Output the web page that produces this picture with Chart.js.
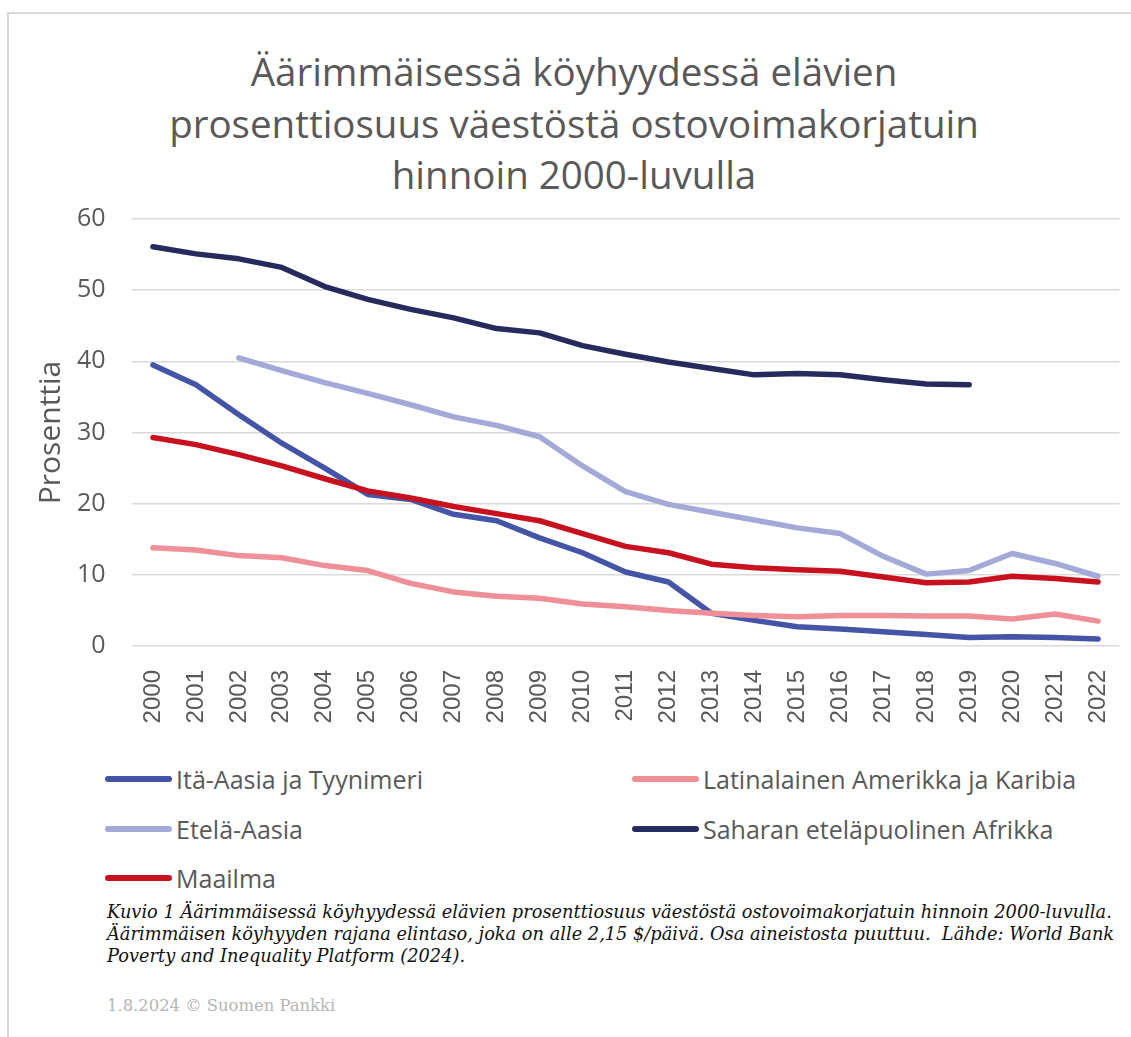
<!DOCTYPE html>
<html lang="fi">
<head>
<meta charset="utf-8">
<title>Äärimmäinen köyhyys</title>
<script src="https://cdn.jsdelivr.net/npm/chart.js@4.4.1/dist/chart.umd.min.js"></script>
<style>
  html, body { margin: 0; padding: 0; background: #fff; overflow: hidden; }
  body { width: 1131px; height: 1037px; position: relative; font-family: "Open Sans", sans-serif; }
  .frame { position: absolute; left: 7px; top: 12px; right: 0; bottom: 0;
           border-top: 2px solid #d9d9d9; border-left: 2px solid #d9d9d9; }
  h1 { position: absolute; left: 0; width: 1148px; top: 46px; margin: 0;
       text-align: center; font-weight: 400; font-size: 38.5px; line-height: 51.5px; color: #595959; }
  #wrap { position: absolute; left: 0; top: 200px; width: 1131px; height: 545px; }
  .leg { position: absolute; height: 30px; display: flex; align-items: center;
         font-size: 25px; color: #595959; white-space: nowrap; }
  .leg span.sw { display: inline-block; width: 67px; height: 6px; border-radius: 3px; margin-right: 4px; }
  .caption { position: absolute; left: 107px; top: 901px; font-family: "DejaVu Serif", serif;
             font-style: italic; font-size: 17.8px; line-height: 22px; color: #111; white-space: nowrap; }
  .foot { position: absolute; left: 107px; top: 996px; font-family: "DejaVu Serif", serif;
          font-size: 16.4px; color: #b5b5b5; }
</style>
</head>
<body>
<div class="frame"></div>
<h1>Äärimmäisessä köyhyydessä elävien<br>prosenttiosuus väestöstä ostovoimakorjatuin<br>hinnoin 2000-luvulla</h1>
<div id="wrap"><canvas id="chart" width="1131" height="545"></canvas></div>
<div id="legend"></div>
<div class="caption">Kuvio 1 Äärimmäisessä köyhyydessä elävien prosenttiosuus väestöstä ostovoimakorjatuin hinnoin 2000-luvulla.<br>Äärimmäisen köyhyyden rajana elintaso, joka on alle 2,15 $/päivä. Osa aineistosta puuttuu.&nbsp; Lähde: World Bank<br>Poverty and Inequality Platform (2024).</div>
<div class="foot">1.8.2024 © Suomen Pankki</div>
<script>
// Vuodet x-akselille
const years = ["2000", "2001", "2002", "2003", "2004", "2005", "2006", "2007", "2008", "2009", "2010",
               "2011", "2012", "2013", "2014", "2015", "2016", "2017", "2018", "2019", "2020", "2021", "2022"];

// Osuudet (%), luettu kuvasta; null = puuttuva tieto
const itaAasia = [39.5, 36.7, 32.5, 28.5, 25.0, 21.3, 20.6, 18.5, 17.6, 15.2, 13.1,
                  10.4, 9.0, 4.6, 3.6, 2.7, 2.4, 2.0, 1.6, 1.2, 1.3, 1.2, 1.0];
const latinalainen = [13.8, 13.5, 12.7, 12.4, 11.3, 10.6, 8.8, 7.6, 7.0, 6.7, 5.9,
                      5.5, 5.0, 4.6, 4.3, 4.1, 4.3, 4.3, 4.2, 4.2, 3.8, 4.5, 3.5];
const etelaAasia = [null, null, 40.5, 38.7, 37.0, 35.5, 33.9, 32.2, 31.0, 29.4, 25.3,
                    21.7, 19.9, 18.8, 17.7, 16.6, 15.8, 12.6, 10.1, 10.6, 13.0, 11.6, 9.8];
const saharaAfrikka = [56.1, 55.1, 54.4, 53.2, 50.5, 48.7, 47.3, 46.1, 44.6, 44.0, 42.2,
                       41.0, 39.9, 39.0, 38.1, 38.3, 38.1, 37.4, 36.8, 36.7, null, null, null];
const maailma = [29.3, 28.3, 26.9, 25.3, 23.5, 21.8, 20.8, 19.6, 18.6, 17.6, 15.8,
                 14.0, 13.1, 11.5, 11.0, 10.7, 10.5, 9.7, 8.9, 9.0, 9.8, 9.5, 9.0];

const yTicks = [0, 10, 20, 30, 40, 50, 60];

const names = ["Itä-Aasia ja Tyynimeri", "Latinalainen Amerikka ja Karibia", "Etelä-Aasia",
               "Saharan eteläpuolinen Afrikka", "Maailma"];
const colors = ["#4454a6", "#ef8f98", "#a3aad7", "#262b5e", "#c8111f"];
const series = [itaAasia, latinalainen, etelaAasia, saharaAfrikka, maailma];

const grey = "#595959";

const chart = new Chart(document.getElementById("chart"), {
    type: 'line',
    data: {
        labels: years,
        datasets: series.map((d, i) => ({
            label: names[i],
            data: d,
            borderColor: colors[i],
            backgroundColor: colors[i],
            borderWidth: 5.5,
            borderCapStyle: 'round',
            borderJoinStyle: 'round',
            pointRadius: 0,
            tension: 0,
            spanGaps: false,
            order: series.length - i   // myöhemmät sarjat päälle
        }))
    },
    options: {
        responsive: false,
        animation: false,
        layout: { padding: { top: 19, right: 11.5, left: 0, bottom: 0 } },
        scales: {
            x: {
                offset: true,
                grid: { display: false },
                border: { display: false },
                ticks: {
                    color: grey,
                    font: { family: "Liberation Sans", size: 24 },
                    minRotation: 90,
                    maxRotation: 90,
                    padding: 16,
                    autoSkip: false
                },
                afterFit: s => { s.height = 99; s.paddingLeft = 0; s.paddingRight = 0; }
            },
            y: {
                min: 0,
                max: 60,
                afterBuildTicks: s => { s.ticks = yTicks.map(v => ({ value: v })); },
                grid: { color: "#d9d9d9", lineWidth: 1.5, drawTicks: false },
                border: { display: false },
                ticks: {
                    color: grey,
                    font: { family: "Open Sans", size: 25 },
                    padding: 26
                },
                title: {
                    display: true,
                    text: "Prosenttia",
                    color: grey,
                    font: { family: "Open Sans", size: 30 },
                    padding: { top: 33, bottom: 0 }
                },
                afterFit: s => { s.width = 131.5; s.paddingTop = 0; s.paddingBottom = 0; }
            }
        },
        plugins: {
            legend: { display: false },
            tooltip: { enabled: false }
        }
    }
});

// Selite kahteen sarakkeeseen sarjojen tiedoista
const legendEl = document.getElementById("legend");
const legX = [105, 632];
const legY = [764, 814, 863];
chart.data.datasets.forEach((ds, i) => {
    const item = document.createElement("div");
    item.className = "leg";
    item.style.left = legX[i % 2] + "px";
    item.style.top = legY[Math.floor(i / 2)] + "px";
    const sw = document.createElement("span");
    sw.className = "sw";
    sw.style.background = ds.borderColor;
    item.appendChild(sw);
    item.appendChild(document.createTextNode(ds.label));
    legendEl.appendChild(item);
});
</script>
</body>
</html>
